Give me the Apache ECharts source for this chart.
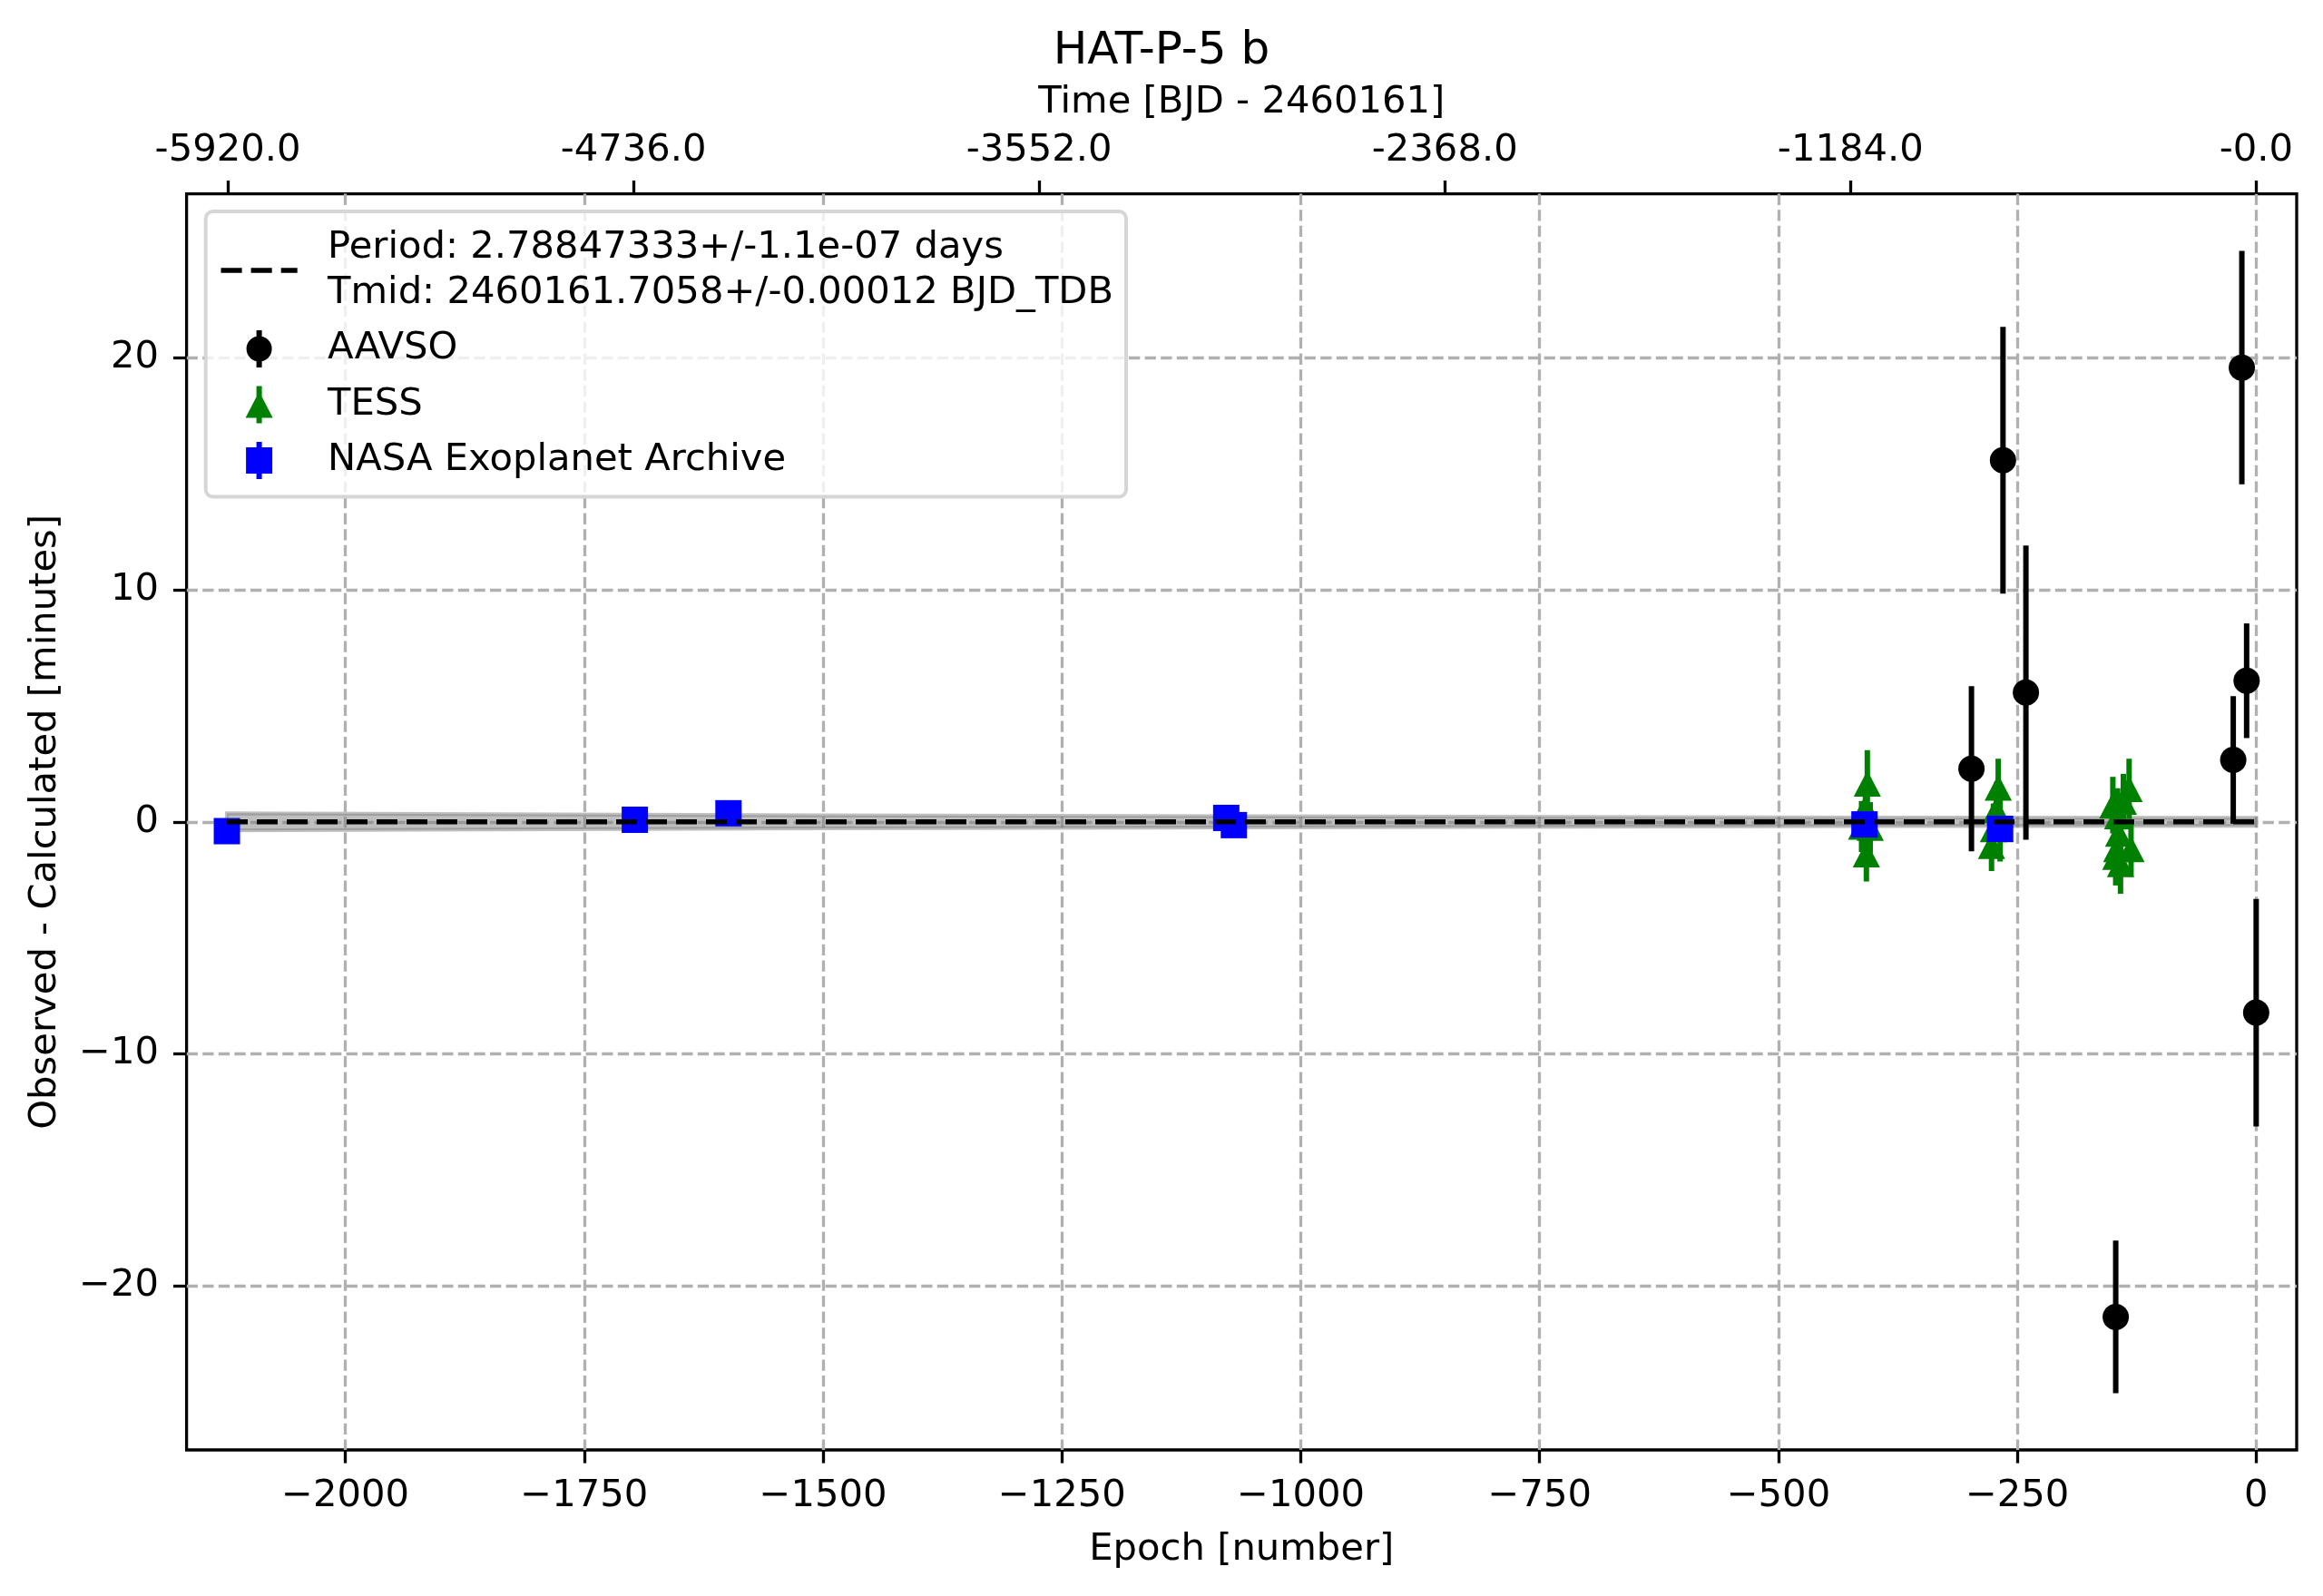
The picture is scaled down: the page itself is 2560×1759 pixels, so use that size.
<!DOCTYPE html>
<html>
<head>
<meta charset="utf-8">
<script src="https://cdn.jsdelivr.net/npm/echarts@6/dist/echarts.min.js"></script>
<style>
html,body{margin:0;padding:0;background:#ffffff;}
#chart{width:2560px;height:1759px;}
</style>
</head>
<body>
<div id="chart"></div>
<script>
// ---------------- data ----------------
const PERIOD = 2.78847333;

const aavsoEpoch = [-298, -265, -241, -147, -24, -15, -10, 0];
const aavsoOC    = [2.29, 15.58, 5.57, -21.33, 2.67, 19.57, 6.08, -8.22];
const aavsoErr   = [3.56, 5.75, 6.34, 3.29, 2.75, 5.03, 2.47, 4.90];

const tessEpoch = [-413, -409, -408, -407, -404, -277, -275, -272, -270, -268, -150, -147, -146, -145, -144, -142, -139, -133, -131];
const tessOC    = [-0.20, 0.60, -1.40, 1.65, -0.25, -1.03, -0.31, 0.51, 1.48, -0.31, 0.72, -1.50, -1.17, 0.25, -0.51, -1.82, 0.87, 1.42, -1.17];
const tessErr   = [1.10, 1.15, 1.17, 1.44, 1.10, 1.09, 1.10, 1.20, 1.24, 1.40, 1.22, 1.24, 1.20, 1.20, 1.20, 1.28, 1.20, 1.30, 1.20];

const nasaEpoch = [-2124, -1697, -1599, -1078, -1070, -410, -268];
const nasaOC    = [-0.40, 0.09, 0.37, 0.17, -0.14, -0.11, -0.30];
const nasaErr   = [0.20, 0.20, 0.20, 0.20, 0.20, 0.20, 0.20];

const fitEpoch = [-2124, 0];
const fitOC    = [0, 0];

const bandEpoch = [-2124, -1500, -937, -400, 0];
const bandUpper = [0.37, 0.28, 0.23, 0.18, 0.17];
const bandLower = [-0.37, -0.28, -0.23, -0.18, -0.17];

const epochTicks      = [-2000, -1750, -1500, -1250, -1000, -750, -500, -250, 0];
const epochTickLabels = ['\u22122000', '\u22121750', '\u22121500', '\u22121250', '\u22121000', '\u2212750', '\u2212500', '\u2212250', '0'];
const timeTicks       = [-5920, -4736, -3552, -2368, -1184, 0];
const timeTickLabels  = ['-5920.0', '-4736.0', '-3552.0', '-2368.0', '-1184.0', '-0.0'];
const ocTicks         = [-20, -10, 0, 10, 20];
const ocTickLabels    = ['\u221220', '\u221210', '0', '10', '20'];

const fitName = 'Period: 2.78847333+/-1.1e-07 days\nTmid: 2460161.7058+/-0.00012 BJD_TDB';

// ---------------- layout / style ----------------
const FONT = 'DejaVu Sans';
const FS = 41.7;
const X_MIN = -2166.2, X_MAX = 42.4;
const Y_MIN = -27.06, Y_MAX = 27.06;

function labelFrom(values, labels) {
  return function (v) {
    const i = values.indexOf(v);
    return i >= 0 ? labels[i] : '';
  };
}

// legend icon paths (box LW x LH, icon centred at CX)
const LW = 117.3, LH = 42, CX = 46.9, CY = 21;
const corners = 'M0 0L0.01 0L0 0.01Z M' + LW + ' ' + LH + 'L' + (LW - 0.01) + ' ' + LH + 'L' + LW + ' ' + (LH - 0.01) + 'Z ';
const bar = 'M' + (CX - 3) + ' 0.5L' + (CX + 3) + ' 0.5L' + (CX + 3) + ' 41.5L' + (CX - 3) + ' 41.5Z ';
const iconLine = 'path://' + corners +
  'M4.8 ' + (CY - 2.75) + 'L27.9 ' + (CY - 2.75) + 'L27.9 ' + (CY + 2.75) + 'L4.8 ' + (CY + 2.75) + 'Z ' +
  'M37.9 ' + (CY - 2.75) + 'L61 ' + (CY - 2.75) + 'L61 ' + (CY + 2.75) + 'L37.9 ' + (CY + 2.75) + 'Z ' +
  'M71 ' + (CY - 2.75) + 'L89 ' + (CY - 2.75) + 'L89 ' + (CY + 2.75) + 'L71 ' + (CY + 2.75) + 'Z';
const iconCircle = 'path://' + corners + bar +
  'M' + (CX - 14) + ' ' + CY + 'A14 14 0 0 1 ' + (CX + 14) + ' ' + CY + 'A14 14 0 0 1 ' + (CX - 14) + ' ' + CY + 'Z';
const iconTri = 'path://' + corners + bar +
  'M' + CX + ' 6.5L' + (CX + 15) + ' 35.5L' + (CX - 15) + ' 35.5Z';
const iconSq = 'path://' + corners + bar +
  'M' + (CX - 14.5) + ' 6.5L' + (CX + 14.5) + ' 6.5L' + (CX + 14.5) + ' 35.5L' + (CX - 14.5) + ' 35.5Z';

function errSeries(epoch, oc, err, color) {
  return {
    type: 'custom',
    silent: true,
    xAxisIndex: 0, yAxisIndex: 0,
    encode: { x: 0, y: 1 },
    data: epoch.map((e, i) => [e, oc[i], err[i]]),
    renderItem: function (params, api) {
      const x = api.value(0), y = api.value(1), e = api.value(2);
      const p1 = api.coord([x, y - e]);
      const p2 = api.coord([x, y + e]);
      return { type: 'line', shape: { x1: p1[0], y1: p1[1], x2: p2[0], y2: p2[1] },
               style: { stroke: color, lineWidth: 6 } };
    }
  };
}

const chart = echarts.init(document.getElementById('chart'), null, { renderer: 'canvas' });

const option = {
  animation: false,
  backgroundColor: '#ffffff',
  textStyle: { fontFamily: FONT },
  title: {
    text: 'HAT-P-5 b',
    left: 'center',
    top: 32.5,
    padding: [0, 0, 0, 176],
    textStyle: { fontSize: 50, fontWeight: 'normal', fontFamily: FONT, color: '#000' }
  },
  grid: {
    left: 205.6, right: 29, top: 213.6, bottom: 161,
    show: true, borderColor: '#000', borderWidth: 3.3, backgroundColor: 'transparent',
    outerBoundsMode: 'none'
  },
  legend: {
    orient: 'vertical',
    left: 226.7, top: 233,
    padding: [15, 14, 15, 12],
    itemGap: 11.5,
    itemWidth: LW, itemHeight: LH,
    symbolKeepAspect: false,
    selectedMode: false,
    backgroundColor: 'rgba(255,255,255,0.8)',
    borderColor: '#d6d6d6', borderWidth: 4, borderRadius: 8,
    itemStyle: { borderWidth: 0 },
    textStyle: { fontSize: FS, fontFamily: FONT, color: '#000', lineHeight: 50 },
    data: [
      { name: fitName, icon: iconLine },
      { name: 'AAVSO', icon: iconCircle },
      { name: 'TESS', icon: iconTri },
      { name: 'NASA Exoplanet Archive', icon: iconSq }
    ]
  },
  xAxis: [
    {
      type: 'value', position: 'bottom', min: X_MIN, max: X_MAX,
      name: 'Epoch [number]', nameLocation: 'middle', nameGap: 89,
      nameTextStyle: { fontSize: FS, fontFamily: FONT, color: '#000' },
      axisLine: { show: false, onZero: false },
      axisTick: { show: true, length: 14.6, lineStyle: { color: '#000', width: 3.3 }, customValues: epochTicks },
      axisLabel: { customValues: epochTicks, formatter: labelFrom(epochTicks, epochTickLabels), margin: 29.7,
                   fontSize: FS, fontFamily: FONT, color: '#000' },
      splitLine: { show: true, lineStyle: { color: '#b0b0b0', width: 3.3, type: [12.3, 5.3] } }
    },
    {
      type: 'value', position: 'top', min: X_MIN * PERIOD, max: X_MAX * PERIOD,
      name: 'Time [BJD - 2460161]', nameLocation: 'middle', nameGap: 79.8,
      nameTextStyle: { fontSize: FS, fontFamily: FONT, color: '#000' },
      axisLine: { show: false, onZero: false },
      axisTick: { show: true, length: 14.6, lineStyle: { color: '#000', width: 3.3 }, customValues: timeTicks },
      axisLabel: { customValues: timeTicks, formatter: labelFrom(timeTicks, timeTickLabels), margin: 26,
                   fontSize: FS, fontFamily: FONT, color: '#000' },
      splitLine: { show: false }
    }
  ],
  yAxis: {
    type: 'value', position: 'left', min: Y_MIN, max: Y_MAX,
    name: 'Observed - Calculated [minutes]', nameLocation: 'middle', nameGap: 134.8,
    nameTextStyle: { fontSize: FS, fontFamily: FONT, color: '#000' },
    axisLine: { show: false, onZero: false },
    axisTick: { show: true, length: 14.6, lineStyle: { color: '#000', width: 3.3 }, customValues: ocTicks },
    axisLabel: { customValues: ocTicks, formatter: labelFrom(ocTicks, ocTickLabels), margin: 30.5,
                 fontSize: FS, fontFamily: FONT, color: '#000' },
    splitLine: { show: true, lineStyle: { color: '#b0b0b0', width: 3.3, type: [12.3, 5.3] } }
  },
  series: [
    {
      type: 'custom', name: 'band', silent: true, xAxisIndex: 0, yAxisIndex: 0,
      encode: { x: 0, y: 1 },
      data: [[bandEpoch[0], bandUpper[0]]],
      renderItem: function (params, api) {
        const pts = [];
        for (let i = 0; i < bandEpoch.length; i++) pts.push(api.coord([bandEpoch[i], bandUpper[i]]));
        for (let i = bandEpoch.length - 1; i >= 0; i--) pts.push(api.coord([bandEpoch[i], bandLower[i]]));
        return { type: 'polygon', shape: { points: pts },
                 style: { fill: 'rgba(128,128,128,0.5)', stroke: 'rgba(128,128,128,0.5)', lineWidth: 4.2 } };
      }
    },
    errSeries(aavsoEpoch, aavsoOC, aavsoErr, '#000000'),
    {
      type: 'scatter', name: 'AAVSO', symbol: 'circle', symbolSize: 29,
      itemStyle: { color: '#000000', opacity: 1 }, silent: true,
      data: aavsoEpoch.map((e, i) => [e, aavsoOC[i]])
    },
    errSeries(tessEpoch, tessOC, tessErr, '#008000'),
    {
      type: 'scatter', name: 'TESS', symbol: 'triangle', symbolSize: [30, 29],
      itemStyle: { color: '#008000', opacity: 1 }, silent: true,
      data: tessEpoch.map((e, i) => [e, tessOC[i]])
    },
    errSeries(nasaEpoch, nasaOC, nasaErr, '#0000ff'),
    {
      type: 'scatter', name: 'NASA Exoplanet Archive', symbol: 'rect', symbolSize: 29,
      itemStyle: { color: '#0000ff', opacity: 1 }, silent: true,
      data: nasaEpoch.map((e, i) => [e, nasaOC[i]])
    },
    {
      type: 'line', name: fitName, symbol: 'none', showSymbol: false, silent: true,
      lineStyle: { color: '#000000', width: 5.5, type: [23, 10] },
      itemStyle: { color: '#000000' },
      data: fitEpoch.map((e, i) => [e, fitOC[i]])
    }
  ]
};

chart.setOption(option);
</script>
</body>
</html>
